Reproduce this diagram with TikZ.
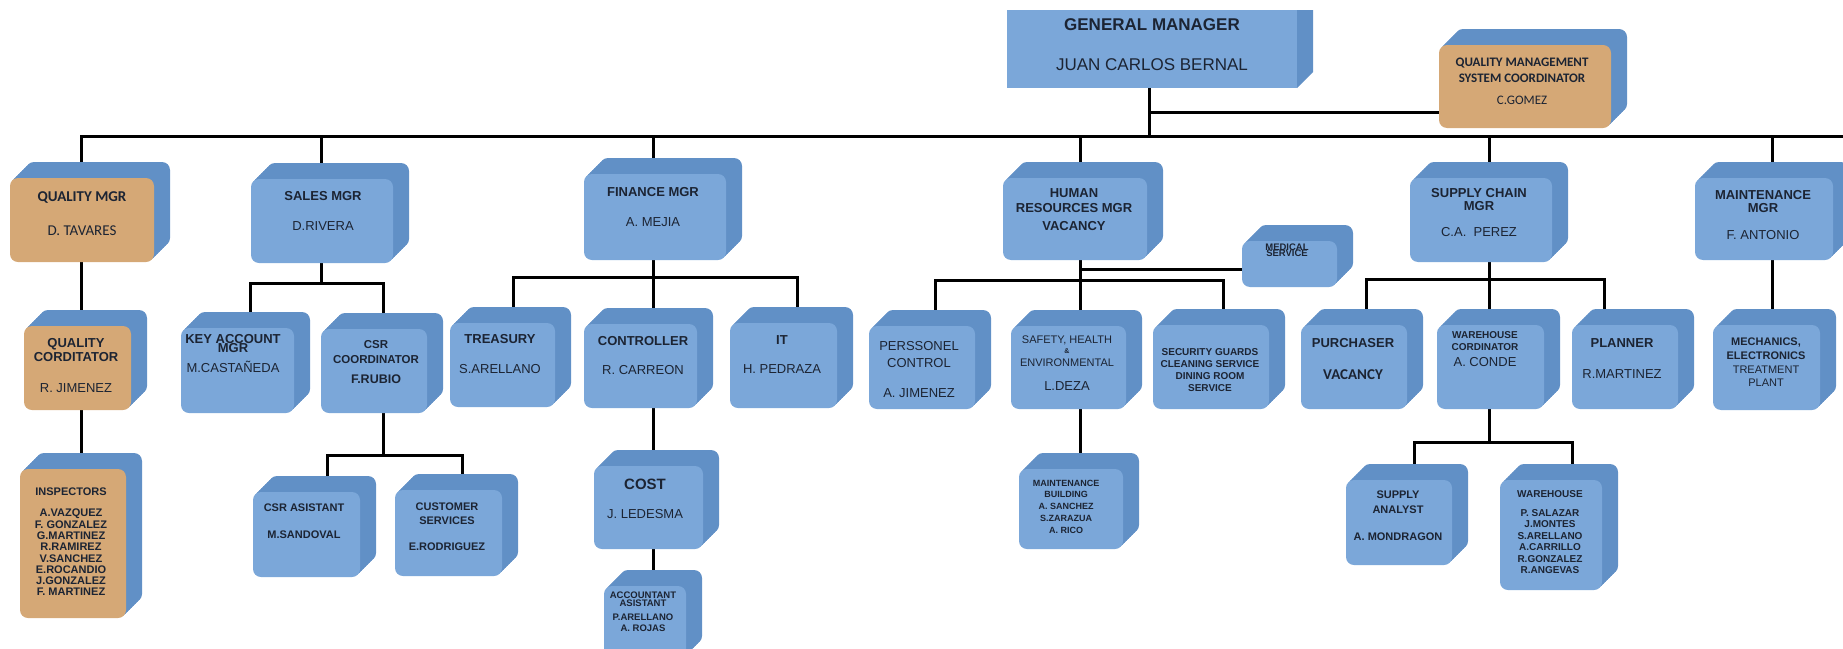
\documentclass[tikz,border=0pt]{standalone}
\usepackage{fontspec}
\setmainfont{Liberation Sans}
\newfontfamily\calib{Carlito}
\usetikzlibrary{shadows}
\pgfdeclarelayer{background}
\pgfsetlayers{background,main}
\definecolor{bfront}{HTML}{7BA7D9}
\definecolor{bside}{HTML}{6190C6}
\definecolor{tfront}{HTML}{D5A876}
\definecolor{ink}{HTML}{1C2433}
\newcommand\fs[2]{\fontsize{#1}{#2}\selectfont\lineskiplimit=-100pt\lineskip=0pt\relax}
\newcommand{\cubebox}[7][]{%
  \node[cube,#1,minimum width={(#5-#3-16)*1pt},minimum height={(#6-#4-16)*1pt}] (#2) at ({(#3+#5-16)/2},{(#4+#6+16)/2}) {};
  \coordinate (#2-p) at ([xshift={(#7-(#3+#5-16)/2)*1pt}]#2.center);
}
\tikzset{
  cube/.style={rounded corners=8pt, fill=bfront, inner sep=0pt, outer sep=0pt,
    general shadow={fill=bside, shadow xshift=16pt, shadow yshift=16pt},
    general shadow={fill=bside, shadow xshift=14pt, shadow yshift=14pt},
    general shadow={fill=bside, shadow xshift=12pt, shadow yshift=12pt},
    general shadow={fill=bside, shadow xshift=10pt, shadow yshift=10pt},
    general shadow={fill=bside, shadow xshift=8pt, shadow yshift=8pt},
    general shadow={fill=bside, shadow xshift=6pt, shadow yshift=6pt},
    general shadow={fill=bside, shadow xshift=4pt, shadow yshift=4pt},
    general shadow={fill=bside, shadow xshift=2pt, shadow yshift=2pt}},
  tan/.style={fill=tfront},
  gmbox/.style={fill=bfront, inner sep=0pt, outer sep=0pt},
  txt/.style={text=ink, align=center, inner sep=0pt},
  conn/.style={line width=3pt, black}
}
\begin{document}
\begin{tikzpicture}[x=1pt,y=-1pt]
\useasboundingbox (0,0) rectangle (1843,648);
% general manager
\node[gmbox, minimum width=290pt, minimum height=78pt] (gm) at (1152,49) {};
\fill[bside] (gm.north east) -- ++(16,0) -- ++(0,62) -- (gm.south east) -- cycle;
\coordinate (gm-p) at ([xshift=-3pt]gm.center);
% boxes
\cubebox[tan]{qmsc}{1439}{29}{1627}{128}{1522}
\cubebox[tan]{qm}{10}{162}{170}{262}{81}
\cubebox{sm}{251}{163}{409}{263}{321}
\cubebox{fm}{584}{158}{742}{260}{653}
\cubebox{hm}{1003}{162}{1163}{260}{1080}
\cubebox{scm}{1410}{162}{1568}{262}{1489}
\cubebox{mm}{1695}{162}{1849}{260}{1772}
\cubebox[tan]{qc}{24}{310}{147}{410}{81}
\cubebox[tan]{insp}{20}{453}{142}{618}{81}
\cubebox{ka}{181}{312}{310}{413}{250}
\cubebox{csr}{321}{313}{443}{413}{383}
\cubebox{csra}{253}{476}{376}{577}{327}
\cubebox{cs}{395}{474}{518}{576}{462}
\cubebox{tr}{450}{307}{571}{407}{513}
\cubebox{ct}{584}{308}{713}{408}{653}
\cubebox{cost}{594}{450}{719}{549}{653}
\cubebox{ca}{604}{570}{702}{660}{653}
\cubebox{it}{730}{307}{853}{408}{797}
\cubebox{pc}{869}{310}{991}{409}{935}
\cubebox{sh}{1011}{310}{1142}{409}{1080}
\cubebox{mb}{1019}{453}{1139}{549}{1080}
\cubebox{sg}{1153}{309}{1285}{409}{1223}
\cubebox{ms}{1242}{225}{1353}{287}{1289}
\cubebox{pu}{1301}{309}{1423}{409}{1366}
\cubebox{wc}{1437}{309}{1560}{409}{1489}
\cubebox{pl}{1572}{309}{1694}{409}{1604}
\cubebox{mech}{1713}{309}{1836}{410}{1772}
\cubebox{sa}{1346}{464}{1468}{565}{1414}
\cubebox{wh}{1500}{464}{1618}{590}{1572}
% texts
\node[txt,font=\fs{17}{40}] (gm-t) at (1152,45) {{\bfseries GENERAL MANAGER}\\JUAN CARLOS BERNAL};
\node[txt,font=\calib\fs{13}{16}] (qmsc-t) at (1522,81) {{\bfseries QUALITY MANAGEMENT}\\{\bfseries SYSTEM COORDINATOR}\\[6pt]C.GOMEZ};
\node[txt,font=\calib\fs{15}{34}] (qm-t) at (82,214) {{\bfseries QUALITY MGR}\\D. TAVARES};
\node[txt,font=\fs{13}{30}] (sm-t) at (323,211) {{\bfseries SALES MGR}\\D.RIVERA};
\node[txt,font=\fs{13}{30}] (fm-t) at (653,207) {{\bfseries FINANCE MGR}\\A. MEJIA};
\node[txt,font=\bfseries\fs{13}{15}] (hm-t) at (1074,209.5) {HUMAN\\RESOURCES MGR\\[3pt]VACANCY};
\node[txt,font=\fs{13}{13}] (scm-t) at (1479,212.5) {{\bfseries SUPPLY CHAIN}\\{\bfseries MGR}\\[13pt]C.A.\ \ PEREZ};
\node[txt,font=\fs{13}{13}] (mm-t) at (1763,215) {{\bfseries MAINTENANCE}\\{\bfseries MGR}\\[14pt]F. ANTONIO};
\node[txt,font=\fs{13}{14}] (qc-t) at (76,365.5) {{\bfseries QUALITY}\\{\bfseries CORDITATOR}\\[17pt]R. JIMENEZ};
\node[txt,font=\bfseries\fs{11}{11.3}] (insp-t) at (71,542) {INSPECTORS\\[9.7pt]A.VAZQUEZ\\F. GONZALEZ\\G.MARTINEZ\\R.RAMIREZ\\V.SANCHEZ\\E.ROCANDIO\\J.GONZALEZ\\F. MARTINEZ};
\node[txt,font=\fs{13}{9}] (ka-t) at (233,353.5) {{\bfseries KEY ACCOUNT}\\{\bfseries MGR}\\[11pt]M.CASTAÑEDA};
\node[txt,font=\bfseries\fs{11.5}{15}] (csr-t) at (376,362.5) {CSR\\COORDINATOR\\[5pt]{\fs{12.5}{15}F.RUBIO}};
\node[txt,font=\bfseries\fs{11}{27}] (csra-t) at (304,521.5) {CSR ASISTANT\\M.SANDOVAL};
\node[txt,font=\bfseries\fs{11}{14}] (cs-t) at (447,527) {CUSTOMER\\SERVICES\\[12pt]E.RODRIGUEZ};
\node[txt,font=\fs{13}{30}] (tr-t) at (500,354) {{\bfseries TREASURY}\\S.ARELLANO};
\node[txt,font=\fs{13}{29}] (ct-t) at (643,355.5) {{\bfseries CONTROLLER}\\R. CARREON};
\node[txt,font=\fs{13}{29}] (cost-t) at (645,498.5) {{\bfseries\fs{15}{29}COST}\\J. LEDESMA};
\node[txt,font=\bfseries\fs{9.5}{11}] (ca-t) at (643,611.5) {ACCOUNTANT\\[-3pt]ASISTANT\\[3pt]P.ARELLANO\\A. ROJAS};
\node[txt,font=\fs{13}{29}] (it-t) at (782,354.5) {{\bfseries IT}\\H. PEDRAZA};
\node[txt,font=\fs{13}{17}] (pc-t) at (919,369.5) {PERSSONEL\\CONTROL\\[13pt]A. JIMENEZ};
\node[txt,font=\fs{11}{12}] (sh-t) at (1067,363.5) {SAFETY, HEALTH\\[-2pt]{\bfseries\fs{7}{12}\&}\\[1pt]ENVIRONMENTAL\\[12pt]{\fs{13}{12}L.DEZA}};
\node[txt,font=\bfseries\fs{9}{11.8}] (mb-t) at (1066,506.5) {MAINTENANCE\\BUILDING\\A. SANCHEZ\\S.ZARAZUA\\A. RICO};
\node[txt,font=\bfseries\fs{10}{12}] (sg-t) at (1210,370) {SECURITY GUARDS\\CLEANING SERVICE\\DINING ROOM\\SERVICE};
\node[txt,font=\bfseries\fs{9.5}{6}] (ms-t) at (1287,250.5) {MEDICAL\\SERVICE};
\node[txt,font=\fs{13}{32}] (pu-t) at (1353,359) {{\bfseries PURCHASER}\\{\calib\bfseries\fs{15}{32}VACANCY}};
\node[txt,font=\bfseries\fs{10}{12}] (wc-t) at (1485,349) {WAREHOUSE\\CORDINATOR\\[4pt]{\mdseries\fs{13}{16}A. CONDE}};
\node[txt,font=\fs{13}{31}] (pl-t) at (1622,358.5) {{\bfseries PLANNER}\\R.MARTINEZ};
\node[txt,font=\fs{11}{13.7}] (mech-t) at (1766,362.5) {{\bfseries MECHANICS,}\\{\bfseries ELECTRONICS}\\TREATMENT\\PLANT};
\node[txt,font=\bfseries\fs{11}{15}] (sa-t) at (1398,516) {SUPPLY\\ANALYST\\[12pt]A. MONDRAGON};
\node[txt,font=\bfseries\fs{10}{11.4}] (wh-t) at (1550,532) {WAREHOUSE\\[7.6pt]P. SALAZAR\\J.MONTES\\S.ARELLANO\\A.CARRILLO\\R.GONZALEZ\\R.ANGEVAS};
% connectors
\begin{pgfonlayer}{background}
\coordinate (busR) at (1843,136);
\coordinate (sbus) at (321,283);
\coordinate (cbus) at (383,455);
\coordinate (fbus) at (653,277);
\coordinate (hbus) at (1080,280);
\coordinate (pbus) at (1489,279);
\coordinate (wbus) at (1489,442);
\draw[conn] (gm-p) -- (gm-p |- busR);
\draw[conn] ([yshift=-26pt]qmsc.west) -| (gm-p);
\draw[conn] (qm-p) |- (busR);
\draw[conn] (sm-p) |- (busR);
\draw[conn] (fm-p) |- (busR);
\draw[conn] (hm-p) |- (busR);
\draw[conn] (scm-p) |- (busR);
\draw[conn] (mm-p) |- (busR);
\draw[conn] (qm-p) -- (qc-p) -- (insp-p);
\draw[conn] (sm-p) -- (sbus);
\draw[conn] (ka-p) |- (sbus) -| (csr-p);
\draw[conn] (csr-p) -- (cbus);
\draw[conn] (csra-p) |- (cbus) -| (cs-p);
\draw[conn] (fm-p) -- (ct-p) -- (cost-p) -- (ca-p);
\draw[conn] (tr-p) |- (fbus) -| (it-p);
\draw[conn] (hm-p) -- (sh-p) -- (mb-p);
\draw[conn] (pc-p) |- (hbus) -| (sg-p);
\draw[conn] ([yshift=-5pt]ms.west) -| (hm-p);
\draw[conn] (scm-p) -- (wc-p) -- (wbus);
\draw[conn] (pu-p) |- (pbus) -| (pl-p);
\draw[conn] (sa-p) |- (wbus) -| (wh-p);
\draw[conn] (mm-p) -- (mech-p);
\end{pgfonlayer}
\end{tikzpicture}
\end{document}
